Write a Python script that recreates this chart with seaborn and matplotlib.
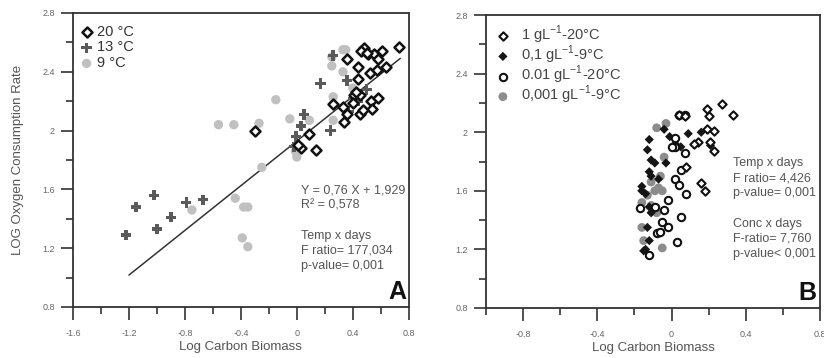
import matplotlib
matplotlib.use("Agg")
import matplotlib.pyplot as plt
import seaborn as sns
import numpy as np
from matplotlib.ticker import MultipleLocator, FuncFormatter

# ---------------- data: panel A ----------------
a20_x = [-0.30, 0.03, 0.01, 0.09, 0.14, 0.26, 0.33, 0.34, 0.36, 0.36, 0.44, 0.44, 0.41, 0.45, 0.48, 0.51,
         0.52, 0.55, 0.57, 0.61, 0.64, 0.73, 0.53, 0.58, 0.54, 0.47, 0.40, 0.45, 0.46, 0.58, 0.50, 0.42]
a20_y = [2.00, 1.88, 1.90, 1.98, 1.87, 2.18, 2.16, 2.06, 2.11, 2.49, 2.43, 2.35, 2.24, 2.11, 2.56, 2.52,
         2.39, 2.52, 2.41, 2.54, 2.43, 2.57, 2.20, 2.22, 2.15, 2.14, 2.19, 2.24, 2.54, 2.49, 2.53, 2.26]
a13_x = [-1.22, -1.15, -1.02, -1.00, -0.90, -0.79, -0.67, -0.005, 0.03, 0.05, -0.02, 0.24, 0.17, 0.26,
         0.36, 0.50, 0.40, 0.44, 0.37]
a13_y = [1.29, 1.48, 1.56, 1.33, 1.41, 1.51, 1.53, 1.96, 2.03, 2.11, 1.89, 2.00, 2.32, 2.51,
         2.34, 2.28, 2.22, 2.20, 2.13]
a9_x = [-0.56, -0.45, -0.27, -0.15, -0.05, -0.25, -0.75, -0.44, -0.38, -0.35, -0.39, -0.35, 0.00, -0.01,
        0.09, 0.25, 0.33, 0.25, 0.33, 0.26, 0.26, 0.35, 0.40]
a9_y = [2.04, 2.04, 2.05, 2.21, 2.08, 1.75, 1.46, 1.54, 1.48, 1.48, 1.27, 1.21, 1.82, 1.86,
        2.07, 2.50, 2.55, 2.44, 2.40, 2.23, 2.07, 2.55, 2.29]
fit_x = [-1.2, 0.74]
fit_slope = 0.76
fit_intercept = 1.929
labels_a = ["20 °C", "13 °C", "9 °C"]
text_a = "Y = 0,76 X + 1,929\nR² = 0,578\n\nTemp x days\nF ratio= 177,034\np-value= 0,001"

# ---------------- data: panel B ----------------
b1_x = [0.27, 0.33, 0.19, 0.20, 0.19, 0.23, 0.21, 0.23, 0.14, 0.16, 0.18, 0.04, 0.07, 0.12, 0.08]
b1_y = [2.19, 2.12, 2.16, 2.11, 2.02, 2.01, 1.93, 1.87, 1.93, 1.65, 1.60, 2.12, 2.11, 1.92, 1.76]
b01_x = [0.09, 0.16, 0.21, -0.04, -0.12, -0.13, -0.11, -0.09, -0.12, -0.16, -0.14, -0.11, -0.12, -0.11,
         -0.13, -0.12, -0.15, -0.03, -0.01, 0.02, 0.05, -0.07, -0.16, -0.14]
b01_y = [1.99, 2.00, 1.91, 2.02, 1.95, 1.88, 1.81, 1.79, 1.73, 1.63, 1.58, 1.70, 1.49, 1.45,
         1.35, 1.26, 1.19, 1.79, 1.97, 1.92, 1.90, 1.68, 1.60, 1.20]
b001_x = [0.04, 0.07, 0.02, 0.02, 0.07, 0.05, 0.02, 0.04, 0.08, -0.02, -0.04, 0.05, -0.05, -0.02, -0.08,
          0.03, -0.17, -0.09, -0.12, 0.00, -0.06]
b001_y = [2.12, 2.12, 1.96, 1.90, 1.86, 1.74, 1.68, 1.64, 1.58, 1.54, 1.47, 1.42, 1.39, 1.35, 1.31,
          1.25, 1.48, 1.49, 1.16, 1.90, 1.32]
b0001_x = [-0.08, -0.03, -0.04, -0.11, -0.07, -0.05, -0.09, -0.16, -0.11, -0.08, -0.16, -0.15, -0.05,
           -0.13, -0.06]
b0001_y = [2.03, 2.06, 1.83, 1.66, 1.62, 1.60, 1.60, 1.52, 1.50, 1.45, 1.35, 1.26, 1.21, 1.57, 1.70]
labels_b = ["1 gL$^{-1}$-20°C", "0,1 gL$^{-1}$-9°C", "0.01 gL$^{-1}$-20°C", "0,001 gL$^{-1}$-9°C"]
text_b = "Temp x days\nF ratio= 4,426\np-value= 0,001\n\nConc x days\nF-ratio= 7,760\np-value< 0,001"

# ---------------- style ----------------
sns.set_style("ticks")
plt.rcParams["font.family"] = ["Liberation Sans", "DejaVu Sans"]
plt.rcParams["axes.unicode_minus"] = False
plt.rcParams["mathtext.fontset"] = "custom"
plt.rcParams["mathtext.rm"] = "Liberation Sans"

fig = plt.figure(figsize=(8.24, 3.58), dpi=100)
axA = fig.add_axes([0.0886, 0.1425, 0.4074, 0.8212])
axB = fig.add_axes([0.5898, 0.1397, 0.4053, 0.8183])

spine_c = "#333333"
tick_c = "#666666"
lab_c = "#555555"

def fmt(v, pos):
    if abs(v) < 1e-9:
        return "0"
    return f"{v:g}"

def style_axes(ax, xlim, ylim):
    ax.set_xlim(*xlim)
    ax.set_ylim(*ylim)
    ax.xaxis.set_major_locator(MultipleLocator(0.4))
    ax.xaxis.set_minor_locator(MultipleLocator(0.2))
    ax.yaxis.set_major_locator(MultipleLocator(0.4))
    ax.yaxis.set_minor_locator(MultipleLocator(0.2))
    ax.xaxis.set_major_formatter(FuncFormatter(fmt))
    ax.yaxis.set_major_formatter(FuncFormatter(fmt))
    for s in ax.spines.values():
        s.set_color(spine_c)
        s.set_linewidth(1.3)
    ax.tick_params(which="major", length=9, width=1.2, color=spine_c, labelsize=6.5,
                   labelcolor=tick_c, direction="out")
    ax.tick_params(which="minor", length=5, width=1.2, color=spine_c, direction="out")
    ax.tick_params(axis="x", which="major", pad=7)
    ax.tick_params(axis="y", which="major", pad=4)
    ax.set_xlabel("Log Carbon Biomass", fontsize=9.5, color=lab_c, labelpad=2)

# ---------------- panel A ----------------
fit_y = [fit_slope * v + fit_intercept for v in fit_x]
sns.lineplot(x=fit_x, y=fit_y, ax=axA, color="#333333", linewidth=1.1, legend=False, zorder=1)
sns.scatterplot(x=a9_x, y=a9_y, ax=axA, marker="o", s=45, color="#c0c0c0", edgecolor="none",
                label=labels_a[2], zorder=2)
sns.scatterplot(x=a13_x, y=a13_y, ax=axA, marker="P", s=55, color="#5a5a5a", edgecolor="none",
                label=labels_a[1], zorder=3)
sns.scatterplot(x=a20_x, y=a20_y, ax=axA, marker="D", s=26, facecolor="white", edgecolor="#111111",
                linewidth=1.8, label=labels_a[0], zorder=4)
h, l = axA.get_legend_handles_labels()
order = [l.index(t) for t in labels_a]
axA.legend([h[i] for i in order], [l[i] for i in order], loc="upper left", frameon=False,
           fontsize=10.5, handletextpad=0.2, handlelength=1.0, labelspacing=0.12,
           borderaxespad=0.0, bbox_to_anchor=(0.01, 0.97), labelcolor="#333333", borderpad=0.2)
style_axes(axA, (-1.6, 0.8), (0.8, 2.8))
axA.set_ylabel("LOG Oxygen Consumption Rate", fontsize=9.5, color=lab_c, labelpad=13)
axA.text(0.03, 1.635, text_a, fontsize=9, color="#555555", va="top", ha="left", linespacing=1.35)
axA.text(0.78, 0.82, "A", fontsize=18, fontweight="bold", color="#111111", ha="right", va="bottom")

# ---------------- panel B ----------------
sns.scatterplot(x=b1_x, y=b1_y, ax=axB, marker="D", s=18, facecolor="white", edgecolor="#111111",
                linewidth=1.5, label=labels_b[0], zorder=5)
sns.scatterplot(x=b01_x, y=b01_y, ax=axB, marker="D", s=22, color="#151515", edgecolor="none",
                label=labels_b[1], zorder=3)
sns.scatterplot(x=b001_x, y=b001_y, ax=axB, marker="o", s=28, facecolor="white", edgecolor="#111111",
                linewidth=1.5, label=labels_b[2], zorder=4)
sns.scatterplot(x=b0001_x, y=b0001_y, ax=axB, marker="o", s=40, color="#8c8c8c", edgecolor="none",
                label=labels_b[3], zorder=2)
axB.legend(loc="upper left", frameon=False, fontsize=10.5, handletextpad=0.75, handlelength=1.0,
           labelspacing=-0.15, borderaxespad=0.0, bbox_to_anchor=(0.02, 0.98),
           labelcolor="#444444", borderpad=0.2)
style_axes(axB, (-1.0, 0.8), (0.8, 2.8))
axB.set_ylabel("")
axB.text(0.33, 1.83, text_b, fontsize=9, color="#555555", va="top", ha="left", linespacing=1.35)
axB.text(0.78, 0.82, "B", fontsize=18, fontweight="bold", color="#111111", ha="right", va="bottom")

fig.savefig("out.png", dpi=100)
